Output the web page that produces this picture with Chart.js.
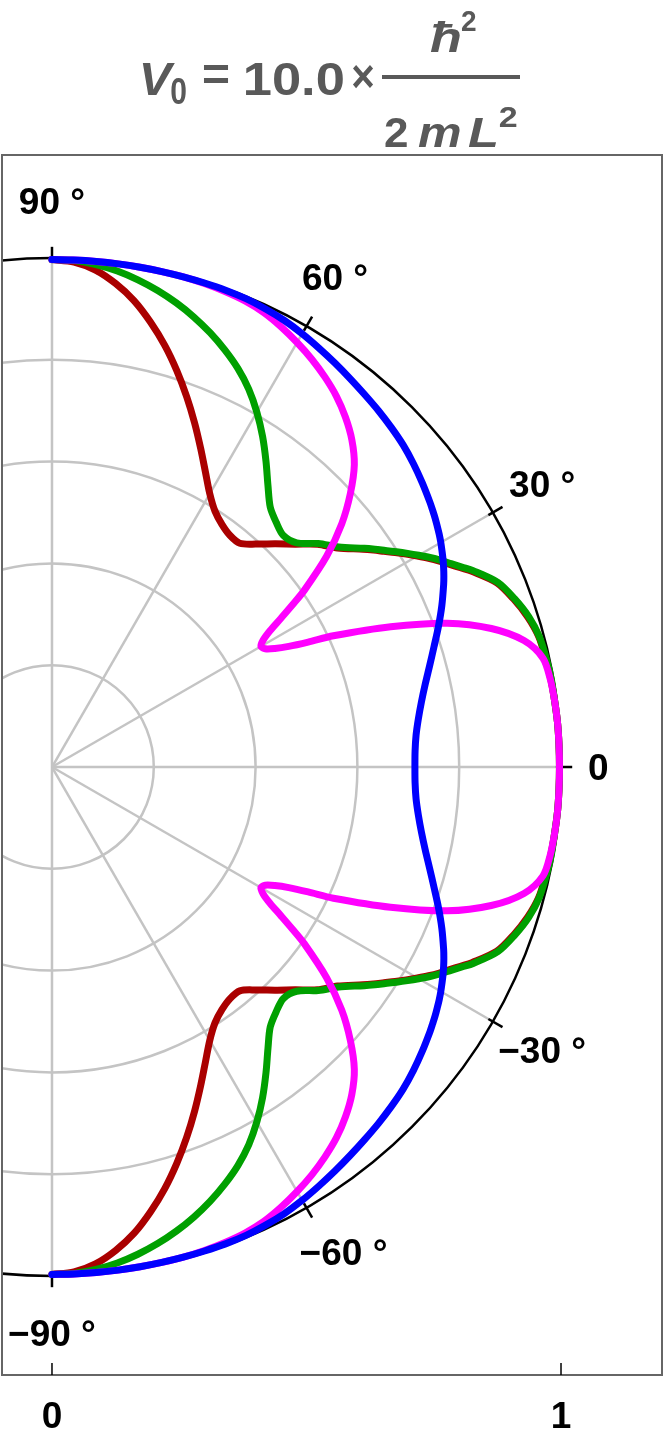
<!DOCTYPE html>
<html>
<head>
<meta charset="utf-8">
<script src="https://cdn.jsdelivr.net/npm/chart.js@4.4.1/dist/chart.umd.min.js"></script>
<style>
  body { margin: 0; background: #fff; }
  canvas { display: block; }
</style>
</head>
<body>
<canvas id="polarChart" width="665" height="1440"></canvas>
<script>
// angles in degrees, shared by all series
const angles = [-90, -87.5, -85, -82.5, -80, -77.5, -75, -72.5, -70, -67.5, -65, -62.5, -60, -57.5, -55, -52.5, -50, -47.5, -45, -42.5, -40, -37.5, -35, -34, -33, -32, -31, -30, -29, -28, -27, -26, -25, -22.5, -20, -17.5, -15, -12.5, -10, -7.5, -5, -2.5,
    0, 2.5, 5, 7.5, 10, 12.5, 15, 17.5, 20, 22.5, 25, 26, 27, 28, 29, 30, 31, 32, 33, 34, 35, 37.5, 40, 42.5, 45, 47.5, 50, 52.5, 55, 57.5, 60, 62.5, 65, 67.5, 70, 72.5, 75, 77.5, 80, 82.5, 85, 87.5, 90];

// radial values
const redR = [0.997, 0.993, 0.98, 0.958, 0.93, 0.895, 0.857, 0.816, 0.774, 0.732, 0.691, 0.653, 0.62, 0.596, 0.582, 0.574, 0.574, 0.594, 0.62, 0.648, 0.681, 0.707, 0.746, 0.762, 0.778, 0.795, 0.812, 0.829, 0.846, 0.862, 0.877, 0.893, 0.91, 0.946, 0.965, 0.98, 0.99, 0.993, 0.995, 0.996, 0.997, 0.997,
    0.997, 0.997, 0.997, 0.996, 0.995, 0.993, 0.99, 0.98, 0.965, 0.946, 0.91, 0.893, 0.877, 0.862, 0.846, 0.829, 0.812, 0.795, 0.778, 0.762, 0.746, 0.707, 0.681, 0.648, 0.62, 0.594, 0.574, 0.574, 0.582, 0.596, 0.62, 0.653, 0.691, 0.732, 0.774, 0.816, 0.857, 0.895, 0.93, 0.958, 0.98, 0.993, 0.997];

const greenR = [0.997, 0.996, 0.991, 0.983, 0.972, 0.959, 0.944, 0.927, 0.908, 0.887, 0.864, 0.837, 0.805, 0.77, 0.733, 0.697, 0.667, 0.652, 0.643, 0.652, 0.683, 0.71, 0.749, 0.765, 0.781, 0.798, 0.815, 0.832, 0.849, 0.865, 0.88, 0.896, 0.913, 0.948, 0.967, 0.982, 0.991, 0.994, 0.996, 0.996, 0.997, 0.997,
    0.997, 0.997, 0.997, 0.996, 0.996, 0.994, 0.991, 0.982, 0.967, 0.948, 0.913, 0.896, 0.88, 0.865, 0.849, 0.832, 0.815, 0.798, 0.781, 0.765, 0.749, 0.71, 0.683, 0.652, 0.643, 0.652, 0.667, 0.697, 0.733, 0.77, 0.805, 0.837, 0.864, 0.887, 0.908, 0.927, 0.944, 0.959, 0.972, 0.983, 0.991, 0.996, 0.997];

const magentaR = [0.997, 0.997, 0.997, 0.997, 0.997, 0.997, 0.997, 0.996, 0.994, 0.991, 0.985, 0.975, 0.963, 0.95, 0.935, 0.918, 0.897, 0.872, 0.84, 0.795, 0.743, 0.68, 0.605, 0.57, 0.536, 0.505, 0.484, 0.474, 0.479, 0.496, 0.522, 0.56, 0.61, 0.72, 0.826, 0.905, 0.96, 0.988, 0.994, 0.996, 0.997, 0.997,
    0.997, 0.997, 0.997, 0.996, 0.994, 0.988, 0.96, 0.905, 0.826, 0.72, 0.61, 0.56, 0.522, 0.496, 0.479, 0.474, 0.484, 0.505, 0.536, 0.57, 0.605, 0.68, 0.743, 0.795, 0.84, 0.872, 0.897, 0.918, 0.935, 0.95, 0.963, 0.975, 0.985, 0.991, 0.994, 0.996, 0.997, 0.997, 0.997, 0.997, 0.997, 0.997, 0.997];

const blueR = [0.997, 0.997, 0.997, 0.997, 0.997, 0.997, 0.997, 0.997, 0.997, 0.996, 0.993, 0.989, 0.983, 0.976, 0.969, 0.962, 0.9555, 0.9495, 0.943, 0.936, 0.927, 0.917, 0.9065, 0.902, 0.8975, 0.8925, 0.8875, 0.882, 0.876, 0.87, 0.8635, 0.8565, 0.849, 0.829, 0.808, 0.787, 0.768, 0.751, 0.737, 0.726, 0.718, 0.714,
    0.713, 0.714, 0.718, 0.726, 0.737, 0.751, 0.768, 0.787, 0.808, 0.829, 0.849, 0.8565, 0.8635, 0.87, 0.876, 0.882, 0.8875, 0.8925, 0.8975, 0.902, 0.9065, 0.917, 0.927, 0.936, 0.943, 0.9495, 0.9555, 0.962, 0.969, 0.976, 0.983, 0.989, 0.993, 0.996, 0.997, 0.997, 0.997, 0.997, 0.997, 0.997, 0.997, 0.997, 0.997];

// polar grid and tick labels
const gridRadii = [0.2, 0.4, 0.6, 0.8];
const gridAngles = [-90, -60, -30, 0, 30, 60, 90];
const angleLabels = ['\u221290 \u00b0', '\u221260 \u00b0', '\u221230 \u00b0', '0', '30 \u00b0', '60 \u00b0', '90 \u00b0'];
const radiusTicks = [0, 1];
const radiusTickLabels = ['0', '1'];

function toXY(rs) {
    return rs.map(function(r, i) {
        const a = angles[i] * Math.PI / 180;
        return { x: r * Math.cos(a), y: r * Math.sin(a) };
    });
}

// draw text stretched to fill [x0, x1]
function drawFit(ctx, text, x0, x1, baseline, font) {
    ctx.save();
    ctx.font = font;
    ctx.textAlign = 'left';
    ctx.textBaseline = 'alphabetic';
    const m = ctx.measureText(text);
    const vis = m.actualBoundingBoxLeft + m.actualBoundingBoxRight;
    const sx = (x1 - x0) / vis;
    ctx.translate(x0 + m.actualBoundingBoxLeft * sx, baseline);
    ctx.scale(sx, 1);
    ctx.fillText(text, 0, 0);
    ctx.restore();
}

const polarPlugin = {
    id: 'polarFrame',
    beforeDatasetsDraw(chart) {
        const ctx = chart.ctx;
        const xs = chart.scales.x, ys = chart.scales.y;
        const area = chart.chartArea;
        const cx = xs.getPixelForValue(0), cy = ys.getPixelForValue(0);
        const unit = xs.getPixelForValue(1) - cx;

        ctx.save();
        ctx.beginPath();
        ctx.rect(area.left, area.top, area.right - area.left, area.bottom - area.top);
        ctx.clip();

        // grid circles
        ctx.strokeStyle = '#c4c4c4';
        ctx.lineWidth = 2.5;
        gridRadii.forEach(function(r) {
            ctx.beginPath();
            ctx.arc(cx, cy, r * unit, 0, Math.PI * 2);
            ctx.stroke();
        });
        // radial lines
        gridAngles.forEach(function(a) {
            const t = a * Math.PI / 180;
            ctx.beginPath();
            ctx.moveTo(cx, cy);
            ctx.lineTo(xs.getPixelForValue(Math.cos(t)), ys.getPixelForValue(Math.sin(t)));
            ctx.stroke();
        });
        // outer circle
        ctx.strokeStyle = '#000';
        ctx.lineWidth = 2.5;
        ctx.beginPath();
        ctx.arc(cx, cy, unit, 0, Math.PI * 2);
        ctx.stroke();
        // angle ticks
        gridAngles.forEach(function(a) {
            const t = a * Math.PI / 180;
            ctx.beginPath();
            ctx.moveTo(xs.getPixelForValue(0.99 * Math.cos(t)), ys.getPixelForValue(0.99 * Math.sin(t)));
            ctx.lineTo(xs.getPixelForValue(1.022 * Math.cos(t)), ys.getPixelForValue(1.022 * Math.sin(t)));
            ctx.stroke();
        });
        ctx.restore();
    },
    afterDatasetsDraw(chart) {
        const ctx = chart.ctx;
        const xs = chart.scales.x, ys = chart.scales.y;
        const area = chart.chartArea;

        ctx.save();
        // frame
        ctx.strokeStyle = '#666';
        ctx.lineWidth = 2;
        ctx.strokeRect(area.left, area.top, area.right - area.left, area.bottom - area.top);

        // bottom radius ticks
        ctx.strokeStyle = '#000';
        ctx.lineWidth = 1.5;
        ctx.fillStyle = '#000';
        ctx.font = 'bold 37px "Liberation Sans", Arial, sans-serif';
        ctx.textAlign = 'center';
        ctx.textBaseline = 'alphabetic';
        radiusTicks.forEach(function(v, i) {
            const px = xs.getPixelForValue(v);
            ctx.beginPath();
            ctx.moveTo(px, area.bottom);
            ctx.lineTo(px, area.bottom - 12);
            ctx.stroke();
            ctx.fillText(radiusTickLabels[i], px, area.bottom + 53);
        });

        // angle labels
        gridAngles.forEach(function(a, i) {
            const lr = a === 0 ? 1.073 : 1.112;
            const la = a === -60 ? -59 : a;
            const t = la * Math.PI / 180;
            const px = xs.getPixelForValue(lr * Math.cos(t));
            const py = ys.getPixelForValue(lr * Math.sin(t));
            ctx.fillText(angleLabels[i], px, py + 13);
        });
        ctx.restore();

        // title: V0 = 10.0 x hbar^2 / (2 m L^2)
        ctx.save();
        ctx.fillStyle = '#595959';
        const big = 'bold 46px "Liberation Sans", Arial, sans-serif';
        const bigIt = 'italic bold 46px "Liberation Sans", Arial, sans-serif';
        const mid = 'bold 42px "Liberation Sans", Arial, sans-serif';
        const midIt = 'italic bold 42px "Liberation Sans", Arial, sans-serif';
        const small = 'bold 30px "Liberation Sans", Arial, sans-serif';
        drawFit(ctx, 'V', 142, 175, 95, bigIt);
        drawFit(ctx, '0', 171, 186, 104, 'bold 36px "Liberation Sans", Arial, sans-serif');
        drawFit(ctx, '=', 203, 228, 90, big);
        drawFit(ctx, '10.0', 245, 343, 95, big);
        drawFit(ctx, '\u00d7', 352, 373, 92, big);
        ctx.fillRect(382, 75, 138, 4);
        drawFit(ctx, '\u0127', 430, 460, 52, midIt);
        drawFit(ctx, '2', 462, 476, 31, small);
        drawFit(ctx, '2', 385, 407, 147, mid);
        drawFit(ctx, 'm', 418, 460, 147, midIt);
        drawFit(ctx, 'L', 468, 497, 147, midIt);
        drawFit(ctx, '2', 500, 517, 127, small);
        ctx.restore();
    }
};

const ctx = document.getElementById('polarChart').getContext('2d');
new Chart(ctx, {
    type: 'scatter',
    data: {
        datasets: [
            { label: 'blue', data: toXY(blueR), borderColor: '#0000ff' },
            { label: 'magenta', data: toXY(magentaR), borderColor: '#ff00ff' },
            { label: 'green', data: toXY(greenR), borderColor: '#00a000' },
            { label: 'red', data: toXY(redR), borderColor: '#aa0000' }
        ].map(function(ds) {
            return Object.assign(ds, { showLine: true, borderWidth: 7, pointRadius: 0, fill: false, tension: 0.3 });
        })
    },
    options: {
        responsive: false,
        animation: false,
        layout: { padding: { left: 2, right: 3, top: 155, bottom: 65 } },
        plugins: { legend: { display: false }, tooltip: { enabled: false } },
        scales: {
            x: { type: 'linear', min: -0.0982, max: 1.1984, display: false },
            y: { type: 'linear', min: -1.1945, max: 1.2024, display: false }
        },
        elements: { line: { borderCapStyle: 'round', borderJoinStyle: 'round' } }
    },
    plugins: [polarPlugin]
});
</script>
</body>
</html>
